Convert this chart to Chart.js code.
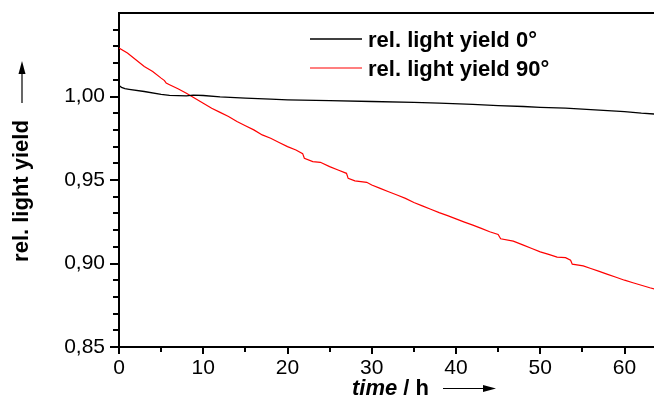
<!DOCTYPE html>
<html>
<head>
<meta charset="utf-8">
<title>rel. light yield</title>
<script src="https://cdn.jsdelivr.net/npm/chart.js@4/dist/chart.umd.min.js"></script>
<style>
  html, body { margin: 0; padding: 0; background: #fff; }
  canvas { display: block; }
</style>
</head>
<body>
<canvas id="yieldChart" width="654" height="396"></canvas>
<script>
// Messwerte: relative Lichtausbeute über der Zeit (h)
const time0 = [0, 0.3, 0.7, 1.2, 3, 5, 6, 8, 8.8, 10, 12, 15, 18, 20, 25, 30, 35, 38, 42, 45, 48, 50, 53, 56, 58, 60, 62, 63.6];
const yield0 = [1.0066, 1.0055, 1.0047, 1.0043, 1.003, 1.0013, 1.0007, 1.0004, 1.0008, 1.0006, 0.9998, 0.999, 0.9984, 0.998, 0.9975, 0.997, 0.9965, 0.996, 0.9953, 0.9945, 0.994, 0.9935, 0.993, 0.9922, 0.9915, 0.991, 0.990, 0.9895];

const time90 = [0, 1, 2, 3, 4, 5, 5.4, 5.6, 6, 7, 8, 9, 10, 11, 12, 13, 14, 15, 16, 17, 18, 19, 20, 21, 21.8, 22, 23, 23.9, 25, 26, 27, 27.2, 28, 29.4, 30, 31, 32, 33, 34, 35, 36, 37, 38, 39, 40, 41, 42, 43, 44, 45, 45.3, 46.8, 48, 49, 50, 51, 52, 53, 53.6, 53.8, 55.1, 56, 57, 58, 59, 60, 61, 62, 63, 63.6];
const yield90 = [1.029, 1.026, 1.022, 1.018, 1.015, 1.011, 1.0095, 1.008, 1.007, 1.0046, 1.002, 0.999, 0.996, 0.993, 0.9905, 0.988, 0.985, 0.9825, 0.980, 0.977, 0.975, 0.9725, 0.970, 0.968, 0.9658, 0.963, 0.961, 0.9606, 0.958, 0.956, 0.954, 0.951, 0.9495, 0.9486, 0.947, 0.945, 0.943, 0.941, 0.939, 0.9365, 0.9345, 0.9325, 0.9305, 0.9287, 0.9267, 0.9248, 0.923, 0.921, 0.919, 0.9174, 0.9148, 0.9134, 0.911, 0.909, 0.907, 0.9055, 0.9038, 0.9035, 0.902, 0.8996, 0.8986, 0.897, 0.8953, 0.8935, 0.8918, 0.890, 0.8885, 0.887, 0.8855, 0.8847];

const seriesLabels = ['rel. light yield 0°', 'rel. light yield 90°'];
const xTicks = [0, 10, 20, 30, 40, 50, 60];
const yTicks = [0.85, 0.90, 0.95, 1.00];

const FONT = 'Liberation Sans, Arial, sans-serif';

function toPoints(xs, ys) {
  return xs.map((x, i) => ({ x: x, y: ys[i] }));
}

// Nebenstriche, Rahmen oben, Legende und Achsentitel mit Pfeilen
const decorPlugin = {
  id: 'decor',
  afterDraw(chart) {
    const ctx = chart.ctx;
    const area = chart.chartArea;
    const xs = chart.scales.x;
    const ys = chart.scales.y;
    ctx.save();

    // oberer Rahmen
    ctx.strokeStyle = '#000';
    ctx.lineWidth = 2;
    ctx.beginPath();
    ctx.moveTo(area.left - 1, area.top);
    ctx.lineTo(area.right, area.top);
    ctx.stroke();

    // Nebenstriche y
    ctx.lineWidth = 2;
    ctx.beginPath();
    for (let v = 0.86; v < 1.045; v += 0.01) {
      const r = Math.round(v * 100) / 100;
      if (Math.abs(r * 20 - Math.round(r * 20)) < 1e-6) continue;
      const py = Math.round(ys.getPixelForValue(r));
      ctx.moveTo(area.left, py);
      ctx.lineTo(area.left - 6, py);
    }
    // Nebenstriche x
    for (let v = 5; v < xs.max; v += 10) {
      const px = Math.round(xs.getPixelForValue(v));
      ctx.moveTo(px, area.bottom);
      ctx.lineTo(px, area.bottom + 5);
    }
    ctx.stroke();

    // Legende
    ctx.font = 'bold 22px ' + FONT;
    ctx.textAlign = 'left';
    ctx.textBaseline = 'alphabetic';
    const legendY = [39, 68];
    chart.data.datasets.forEach((ds, i) => {
      ctx.strokeStyle = ds.borderColor;
      ctx.lineWidth = ds.borderWidth;
      ctx.beginPath();
      ctx.moveTo(310, legendY[i]);
      ctx.lineTo(362, legendY[i]);
      ctx.stroke();
      ctx.fillStyle = '#000';
      ctx.fillText(ds.label, 368, legendY[i] + 8);
    });

    // y-Achsentitel
    ctx.fillStyle = '#000';
    ctx.save();
    ctx.translate(28, 191);
    ctx.rotate(-Math.PI / 2);
    ctx.textAlign = 'center';
    ctx.fillText('rel. light yield', 0, 0);
    ctx.restore();

    ctx.strokeStyle = '#000';
    ctx.lineWidth = 1.2;
    ctx.beginPath();
    ctx.moveTo(22, 103);
    ctx.lineTo(22, 72);
    ctx.stroke();
    ctx.beginPath();
    ctx.moveTo(22, 61);
    ctx.lineTo(18.5, 74);
    ctx.lineTo(25.5, 74);
    ctx.closePath();
    ctx.fill();

    // x-Achsentitel
    ctx.textAlign = 'left';
    ctx.font = 'italic bold 22px ' + FONT;
    ctx.fillText('time', 352, 395);
    const w = ctx.measureText('time').width;
    ctx.font = 'bold 22px ' + FONT;
    ctx.fillText(' / h', 352 + w, 395);

    ctx.beginPath();
    ctx.moveTo(443, 388.5);
    ctx.lineTo(485, 388.5);
    ctx.stroke();
    ctx.beginPath();
    ctx.moveTo(496, 388.5);
    ctx.lineTo(483, 385);
    ctx.lineTo(483, 392);
    ctx.closePath();
    ctx.fill();

    ctx.restore();
  }
};

new Chart(document.getElementById('yieldChart'), {
  type: 'line',
  data: {
    datasets: [{
      label: seriesLabels[0],
      data: toPoints(time0, yield0),
      borderColor: '#000000',
      borderWidth: 1.3,
      pointRadius: 0,
      tension: 0
    }, {
      label: seriesLabels[1],
      data: toPoints(time90, yield90),
      borderColor: '#ff0000',
      borderWidth: 1.2,
      pointRadius: 0,
      tension: 0
    }]
  },
  options: {
    responsive: false,
    animation: false,
    layout: { padding: { top: 13, right: 0, left: 0, bottom: 0 } },
    plugins: {
      legend: { display: false },
      tooltip: { enabled: false }
    },
    scales: {
      x: {
        type: 'linear',
        min: 0,
        max: 63.5,
        afterBuildTicks: (scale) => { scale.ticks = xTicks.map(v => ({ value: v })); },
        afterFit: (scale) => {
          scale.height = 49;
          scale.paddingLeft = 0;
          scale.paddingRight = 0;
        },
        grid: { drawOnChartArea: false, drawTicks: true, tickLength: 7, color: '#000', lineWidth: 2 },
        border: { display: true, color: '#000', width: 2 },
        ticks: {
          color: '#000',
          font: { family: FONT, size: 21 },
          padding: 2,
          maxRotation: 0,
          callback: (v) => String(v)
        }
      },
      y: {
        min: 0.85,
        max: 1.05,
        afterBuildTicks: (scale) => { scale.ticks = yTicks.map(v => ({ value: v })); },
        afterFit: (scale) => {
          scale.width = 119;
          scale.paddingTop = 0;
          scale.paddingBottom = 0;
        },
        grid: { drawOnChartArea: false, drawTicks: true, tickLength: 9, color: '#000', lineWidth: 2 },
        border: { display: true, color: '#000', width: 2 },
        ticks: {
          color: '#000',
          font: { family: FONT, size: 21 },
          padding: 5,
          callback: (v) => v.toFixed(2).replace('.', ',')
        }
      }
    }
  },
  plugins: [decorPlugin]
});
</script>
</body>
</html>
